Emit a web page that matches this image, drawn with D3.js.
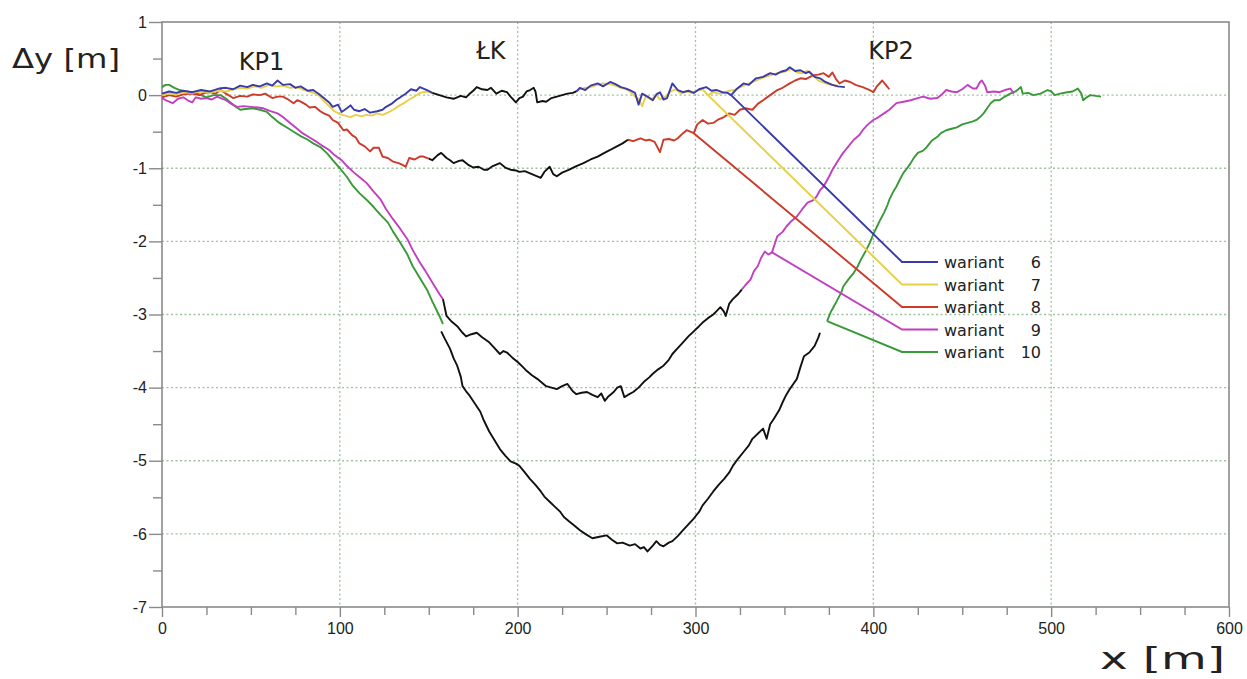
<!DOCTYPE html>
<html>
<head>
<meta charset="utf-8">
<script src="https://cdn.jsdelivr.net/npm/d3@7"></script>
<style>
  body { margin: 0; background: #fff; }
  svg { display: block; }
</style>
</head>
<body>
<svg id="chart" width="1247" height="679"></svg>
<script>
// ---- data (x [m], dy [m]) ----
const xMajor = [0, 100, 200, 300, 400, 500, 600];
const yMajor = [-7, -6, -5, -4, -3, -2, -1, 0, 1];
const zoneLabels = [["KP1", 56], ["ŁK", 185], ["KP2", 410]];

// wariant 6 (blue) - before / after the black stretch
const v6a = [[0,0.02],[4,0.05],[8,0.03],[12,0.06],[17,0.04],[22,0.07],[27,0.05],[32,0.09],[36,0.1],[40,0.08],[44,0.13],[48,0.11],[51,0.14],[55,0.12],[59,0.16],[62,0.13],[65,0.2],[68,0.14],[72,0.15],[75,0.1],[78,0.12],[82,0.06],[85,0.07],[88,0.02],[91,-0.04],[94,-0.1],[96,-0.16],[99,-0.13],[101,-0.23],[104,-0.18],[106,-0.14],[108,-0.2],[111,-0.22],[114,-0.19],[117,-0.24],[121,-0.22],[124,-0.2],[126,-0.16],[129,-0.12],[132,-0.06],[134,-0.03],[137,0.02],[140,0.08],[143,0.06],[145,0.11],[149,0.07],[152,0.03]];
const v6c = [[233,0.05],[235,0.1],[238,0.07],[241,0.13],[245,0.16],[248,0.12],[252,0.18],[255,0.15],[258,0.11],[261,0.09],[263,0.07],[266,0.03],[268,-0.13],[270,0.02],[273,-0.02],[276,-0.07],[278,0.01],[280,0.04],[282,-0.06],[284,-0.04],[287,0.16],[290,0.07],[293,0.04],[296,0.06],[299,0.03],[302,0.08],[306,0.11],[309,0.06],[312,0.07],[315,0.04],[318,0.03],[320,0],[323,0.08],[327,0.16],[330,0.14],[334,0.23],[338,0.25],[342,0.3],[345,0.28],[348,0.32],[351,0.34],[353,0.38],[356,0.33],[359,0.34],[362,0.3],[364,0.32],[367,0.25],[370,0.23],[373,0.18],[377,0.14],[380,0.12],[384,0.11]];

// wariant 7 (yellow)
const v7a = [[0,0],[4,0.02],[8,0.01],[12,0.04],[17,0.03],[22,0.05],[27,0.04],[32,0.06],[36,0.05],[40,0.08],[44,0.1],[48,0.09],[52,0.12],[56,0.1],[60,0.14],[64,0.12],[68,0.13],[72,0.1],[76,0.11],[80,0.07],[84,0.04],[88,0],[91,-0.08],[94,-0.15],[97,-0.22],[100,-0.26],[103,-0.28],[106,-0.3],[109,-0.27],[112,-0.29],[115,-0.27],[118,-0.28],[121,-0.25],[124,-0.27],[127,-0.24],[130,-0.2],[133,-0.15],[136,-0.11],[139,-0.06],[142,-0.02],[145,0.03],[149,0.05],[152,0.03]];
const v7c = [[233,0.05],[235,0.08],[238,0.1],[241,0.11],[245,0.14],[248,0.16],[252,0.15],[255,0.13],[258,0.1],[261,0.08],[263,0.05],[266,-0.02],[268,-0.05],[270,-0.15],[272,-0.02],[275,-0.06],[278,0],[280,-0.06],[283,-0.02],[286,0.05],[289,0.08],[292,0.02],[295,0.05],[298,0.03],[301,0.06],[304,0.08],[307,0],[310,0.04],[313,0.02],[316,0.03],[319,0.06],[322,0.07],[326,0.12],[330,0.16],[334,0.2],[338,0.24],[342,0.27],[346,0.3],[350,0.32],[354,0.36],[357,0.31],[360,0.3],[363,0.33],[366,0.27],[369,0.2],[372,0.17],[376,0.14],[380,0.13]];

// black stretch shared by wariant 6 and 7
const v67b = [[152,0.03],[156,0],[160,-0.03],[164,-0.05],[168,-0.01],[171,-0.03],[173,0.02],[175,0.06],[177,0.11],[180,0.08],[183,0.07],[185,0.1],[188,0.02],[191,0.06],[194,0.04],[196,-0.02],[199,-0.1],[201,-0.04],[203,-0.02],[205,0.05],[207,0.07],[209,0.1],[210,0.05],[211,-0.1],[214,-0.08],[216,-0.09],[219,-0.04],[222,-0.02],[225,0],[228,0.02],[231,0.03],[233,0.05]];

// wariant 8 (red)
const v8a = [[0,-0.03],[4,0],[8,-0.02],[12,0.01],[17,0.02],[21,0],[24,0.03],[27,0.04],[30,0.02],[33,0.07],[36,0.02],[40,-0.04],[44,-0.01],[48,-0.02],[51,0.01],[55,0],[58,0.02],[62,-0.04],[65,-0.02],[68,-0.02],[71,-0.06],[74,-0.11],[76,-0.07],[78,-0.09],[81,-0.13],[83,-0.17],[86,-0.16],[89,-0.22],[91,-0.25],[94,-0.28],[96,-0.34],[99,-0.38],[102,-0.48],[104,-0.47],[107,-0.55],[109,-0.58],[111,-0.66],[114,-0.7],[117,-0.77],[119,-0.72],[122,-0.72],[124,-0.84],[127,-0.86],[130,-0.91],[133,-0.93],[135,-0.95],[137,-0.98],[139,-0.86],[142,-0.88],[145,-0.84],[147,-0.84],[150,-0.87]];
const v8b = [[150,-0.87],[152,-0.89],[155,-0.82],[157,-0.79],[160,-0.86],[162,-0.89],[164,-0.93],[167,-0.9],[169,-0.89],[172,-0.95],[175,-0.99],[178,-0.98],[181,-1.02],[183,-1.02],[186,-0.97],[188,-0.95],[190,-0.93],[193,-0.99],[196,-1.02],[199,-1.03],[201,-1.05],[204,-1.04],[207,-1.07],[210,-1.1],[213,-1.13],[215,-1.05],[218,-0.98],[220,-1.08],[222,-1.11],[225,-1.06],[229,-1.02],[233,-0.97],[237,-0.93],[241,-0.88],[245,-0.84],[248,-0.8],[252,-0.75],[255,-0.71],[259,-0.66],[262,-0.61]];
const v8c = [[262,-0.61],[265,-0.63],[269,-0.59],[272,-0.62],[274,-0.61],[277,-0.64],[280,-0.78],[282,-0.61],[285,-0.6],[288,-0.62],[290,-0.59],[293,-0.52],[295,-0.48],[297,-0.5],[299,-0.52],[301,-0.4],[304,-0.34],[307,-0.39],[310,-0.38],[313,-0.33],[316,-0.3],[319,-0.25],[322,-0.27],[325,-0.2],[328,-0.18],[332,-0.2],[335,-0.12],[338,-0.07],[342,0],[346,0.07],[349,0.1],[353,0.16],[356,0.2],[359,0.23],[362,0.22],[366,0.27],[369,0.28],[372,0.3],[375,0.25],[377,0.31],[379,0.22],[381,0.16],[384,0.2],[387,0.18],[390,0.14],[394,0.11],[397,0.08],[400,0.04],[402,0.12],[405,0.2],[407,0.14],[409,0.08]];

// wariant 9 (magenta)
const v9a = [[0,-0.04],[3,-0.08],[6,-0.11],[9,-0.05],[12,-0.03],[15,-0.08],[17,-0.1],[19,-0.03],[22,-0.05],[25,-0.04],[28,-0.06],[31,-0.02],[34,-0.05],[36,-0.07],[39,-0.12],[42,-0.16],[46,-0.15],[50,-0.16],[54,-0.17],[57,-0.18],[61,-0.22],[65,-0.25],[68,-0.3],[72,-0.38],[75,-0.44],[79,-0.52],[83,-0.58],[87,-0.64],[90,-0.69],[94,-0.75],[97,-0.82],[101,-0.89],[104,-0.97],[108,-1.06],[111,-1.12],[115,-1.2],[119,-1.32],[123,-1.43],[126,-1.56],[130,-1.7],[134,-1.83],[138,-1.97],[141,-2.12],[145,-2.29],[148,-2.4],[151,-2.52],[154,-2.64],[156,-2.72],[158,-2.79]];
const v9b = [[158,-2.79],[160,-3.02],[163,-3.1],[166,-3.16],[169,-3.25],[171,-3.3],[174,-3.27],[177,-3.25],[180,-3.31],[184,-3.38],[187,-3.46],[190,-3.54],[192,-3.5],[194,-3.52],[197,-3.59],[200,-3.65],[203,-3.72],[205,-3.77],[208,-3.83],[211,-3.88],[214,-3.94],[216,-3.98],[219,-4],[222,-4.02],[225,-3.98],[228,-3.95],[231,-4.05],[233,-4.09],[236,-4.07],[239,-4.06],[242,-4.1],[245,-4.13],[247,-4.08],[249,-4.18],[251,-4.12],[254,-4.06],[256,-4],[258,-3.98],[260,-4.13],[262,-4.1],[265,-4.06],[268,-4],[271,-3.92],[274,-3.86],[276,-3.81],[279,-3.75],[282,-3.7],[285,-3.62],[287,-3.54],[290,-3.46],[293,-3.38],[296,-3.3],[299,-3.23],[302,-3.16],[304,-3.11],[307,-3.05],[310,-3],[312,-2.95],[314,-2.9],[316,-2.96],[317,-3.02],[319,-2.85],[321,-2.79],[324,-2.72],[326,-2.66]];
const v9c = [[326,-2.66],[328,-2.6],[331,-2.52],[333,-2.4],[335,-2.34],[337,-2.22],[339,-2.14],[341,-2.18],[343,-2.15],[346,-1.93],[349,-1.87],[351,-1.8],[354,-1.72],[357,-1.66],[360,-1.56],[363,-1.47],[366,-1.44],[368,-1.39],[370,-1.3],[372,-1.25],[375,-1.12],[377,-1.02],[380,-0.9],[383,-0.79],[386,-0.7],[389,-0.61],[392,-0.55],[394,-0.48],[397,-0.4],[400,-0.34],[403,-0.3],[406,-0.25],[409,-0.2],[413,-0.11],[417,-0.09],[421,-0.07],[425,-0.04],[428,-0.02],[432,-0.05],[436,-0.04],[439,0.02],[441,0.07],[444,0.05],[447,0.04],[450,0.08],[453,0.14],[456,0.09],[458,0.09],[460,0.18],[461,0.2],[463,0.12],[464,0.04],[468,0.05],[471,0.04],[474,0.07],[477,0.09],[479,0.02]];

// wariant 10 (green)
const v10a = [[0,0.11],[2,0.14],[4,0.14],[7,0.1],[10,0.07],[13,0.05],[17,0.04],[21,0.01],[25,-0.03],[29,0],[33,0],[36,-0.05],[38,-0.09],[41,-0.15],[44,-0.2],[47,-0.19],[51,-0.18],[55,-0.2],[59,-0.23],[62,-0.3],[66,-0.38],[70,-0.44],[74,-0.5],[78,-0.56],[82,-0.61],[85,-0.66],[89,-0.71],[93,-0.8],[96,-0.89],[100,-1],[104,-1.12],[107,-1.23],[111,-1.34],[115,-1.43],[119,-1.53],[123,-1.64],[127,-1.74],[130,-1.87],[134,-2.02],[138,-2.18],[141,-2.34],[145,-2.5],[149,-2.66],[152,-2.82],[156,-3.02],[158,-3.13]];
const v10b = [[157,-3.23],[159,-3.33],[162,-3.47],[164,-3.6],[166,-3.7],[168,-3.85],[169,-3.98],[171,-4.05],[173,-4.11],[176,-4.22],[179,-4.33],[181,-4.45],[184,-4.6],[187,-4.72],[190,-4.84],[193,-4.93],[196,-5.01],[199,-5.04],[201,-5.07],[204,-5.16],[207,-5.25],[210,-5.33],[213,-5.42],[215,-5.49],[218,-5.56],[221,-5.63],[224,-5.7],[226,-5.77],[229,-5.83],[232,-5.89],[235,-5.95],[238,-6],[242,-6.06],[246,-6.04],[250,-6.02],[253,-6.08],[256,-6.13],[259,-6.12],[263,-6.16],[266,-6.14],[269,-6.2],[271,-6.18],[273,-6.24],[276,-6.16],[278,-6.1],[280,-6.15],[282,-6.17],[285,-6.12],[287,-6.1],[290,-6.03],[293,-5.95],[296,-5.87],[299,-5.79],[302,-5.7],[304,-5.61],[307,-5.52],[310,-5.42],[313,-5.33],[316,-5.25],[319,-5.16],[321,-5.07],[324,-4.97],[327,-4.88],[330,-4.79],[332,-4.7],[335,-4.63],[338,-4.56],[340,-4.7],[342,-4.5],[344,-4.43],[347,-4.31],[349,-4.2],[351,-4.1],[353,-4.02],[355,-3.95],[357,-3.88],[359,-3.72],[361,-3.57],[364,-3.52],[367,-3.43],[369,-3.32],[370,-3.25]];
const v10c = [[374,-3.09],[376,-2.97],[378,-2.88],[380,-2.79],[382,-2.7],[383,-2.62],[386,-2.52],[389,-2.43],[391,-2.35],[393,-2.25],[396,-2.12],[398,-2.02],[400,-1.9],[402,-1.8],[404,-1.7],[406,-1.61],[408,-1.5],[409,-1.43],[411,-1.33],[413,-1.25],[415,-1.15],[417,-1.06],[419,-1],[421,-0.93],[423,-0.85],[425,-0.79],[428,-0.76],[430,-0.71],[433,-0.62],[436,-0.57],[438,-0.52],[441,-0.48],[444,-0.46],[447,-0.44],[450,-0.4],[453,-0.38],[456,-0.36],[458,-0.34],[460,-0.3],[462,-0.25],[464,-0.18],[466,-0.11],[468,-0.07],[471,-0.07],[474,-0.02],[477,0.02],[480,0.05],[483,0.11],[484,0.02],[487,0.03],[490,0],[494,0.02],[498,0.07],[500,0.05],[502,0],[505,0.02],[509,0.04],[512,0.05],[515,0.09],[517,0.02],[518,-0.07],[520,-0.03],[522,0],[525,-0.01],[528,-0.02]];

const variants = [
  { name: "6",  color: "#3a3aa8", parts: [v6a, v6c],  anchor: [320, 0] },
  { name: "7",  color: "#e8cf4a", parts: [v7a, v7c],  anchor: [307, 0] },
  { name: "8",  color: "#cc3a2a", parts: [v8a, v8c],  anchor: [299, -0.52] },
  { name: "9",  color: "#c23fc0", parts: [v9a, v9c],  anchor: [343, -2.15] },
  { name: "10", color: "#379a37", parts: [v10a, v10c], anchor: [374, -3.09] }
];
const blackParts = [v67b, v8b, v9b, v10b];

// ---- layout ----
const svg = d3.select("#chart");
const x = d3.scaleLinear().domain([0, 600]).range([162, 1229]);
const y = d3.scaleLinear().domain([-7, 1]).range([607, 22]);
const frameColor = "#8a8a8a";
const gridColor = "#9cc49c";

// grid
svg.append("g")
  .selectAll("line")
  .data(xMajor.slice(1, -1))
  .join("line")
  .attr("x1", d => x(d)).attr("x2", d => x(d))
  .attr("y1", y(1)).attr("y2", y(-7))
  .attr("stroke", gridColor).attr("stroke-width", 1.3)
  .attr("stroke-dasharray", "2,2.5");

svg.append("g")
  .selectAll("line")
  .data(yMajor.slice(1, -1))
  .join("line")
  .attr("x1", x(0)).attr("x2", x(600))
  .attr("y1", d => y(d)).attr("y2", d => y(d))
  .attr("stroke", gridColor).attr("stroke-width", 1.3)
  .attr("stroke-dasharray", "2,2.5");

// axes
const styleAxis = g => {
  g.select(".domain").remove();
  g.selectAll(".tick line").attr("stroke", frameColor).attr("stroke-width", 1.4);
  g.selectAll(".tick text")
    .attr("fill", "#222")
    .style("font-family", "'Liberation Sans', Arial, sans-serif")
    .style("font-size", "16px");
};

svg.append("g")
  .attr("transform", `translate(${x(0)},0)`)
  .call(d3.axisLeft(y).tickValues(yMajor).tickSize(13).tickPadding(2).tickFormat(d => String(d)))
  .call(styleAxis);

svg.append("g")
  .attr("transform", `translate(${x(0)},0)`)
  .call(d3.axisLeft(y).tickValues(d3.range(-6.5, 1, 1)).tickSize(9).tickFormat(""))
  .call(styleAxis);

svg.append("g")
  .attr("transform", `translate(0,${y(-7)})`)
  .call(d3.axisBottom(x).tickValues(xMajor).tickSize(10).tickPadding(6).tickFormat(d => String(d)))
  .call(styleAxis);

svg.append("g")
  .attr("transform", `translate(0,${y(-7)})`)
  .call(d3.axisBottom(x).tickValues(d3.range(25, 600, 25).filter(d => d % 100 !== 0)).tickSize(8).tickFormat(""))
  .call(styleAxis);

// frame
svg.append("rect")
  .attr("x", x(0)).attr("y", y(1))
  .attr("width", x(600) - x(0)).attr("height", y(-7) - y(1))
  .attr("fill", "none").attr("stroke", frameColor).attr("stroke-width", 1.6);

// curves
const line = d3.line().x(d => x(d[0])).y(d => y(d[1]));
const curves = svg.append("g").attr("fill", "none")
  .attr("stroke-width", 1.9).attr("stroke-linejoin", "round");

variants.slice().reverse().forEach(v => {
  v.parts.forEach(p => {
    curves.append("path").attr("d", line(p)).attr("stroke", v.color);
  });
});
blackParts.forEach(p => {
  curves.append("path").attr("d", line(p)).attr("stroke", "#111");
});

// legend with leader lines
const legX = 902, legEnd = 938, legTop = 262, legStep = 22.5;
const legend = svg.append("g");
variants.forEach((v, i) => {
  const ly = legTop + i * legStep;
  legend.append("polyline")
    .attr("points", `${x(v.anchor[0])},${y(v.anchor[1])} ${legX},${ly} ${legEnd},${ly}`)
    .attr("fill", "none").attr("stroke", v.color).attr("stroke-width", 1.9);
  legend.append("text")
    .attr("x", legEnd + 6).attr("y", ly + 6)
    .style("font-family", "'DejaVu Sans', Verdana, sans-serif")
    .style("font-size", "16px").attr("fill", "#222")
    .text("wariant");
  legend.append("text")
    .attr("x", 1041).attr("y", ly + 6)
    .attr("text-anchor", "end")
    .style("font-family", "'DejaVu Sans', Verdana, sans-serif")
    .style("font-size", "16px").attr("fill", "#222")
    .text(v.name);
});

// zone labels
svg.append("g")
  .selectAll("text")
  .data(zoneLabels)
  .join("text")
  .attr("x", d => x(d[1]))
  .attr("y", (d, i) => i === 0 ? 70 : 59)
  .attr("text-anchor", "middle")
  .style("font-family", "'DejaVu Sans', Verdana, sans-serif")
  .style("font-size", "24px").attr("fill", "#222")
  .text(d => d[0]);

// axis titles
svg.append("text")
  .attr("x", 12).attr("y", 68)
  .attr("textLength", 108).attr("lengthAdjust", "spacingAndGlyphs")
  .style("font-family", "'DejaVu Sans', Verdana, sans-serif")
  .style("font-size", "27px").attr("fill", "#222")
  .text("Δy [m]");

svg.append("text")
  .attr("x", 1100).attr("y", 669)
  .attr("textLength", 125).attr("lengthAdjust", "spacingAndGlyphs")
  .style("font-family", "'DejaVu Sans', Verdana, sans-serif")
  .style("font-size", "30px").attr("fill", "#222")
  .text("x [m]");
</script>
</body>
</html>
